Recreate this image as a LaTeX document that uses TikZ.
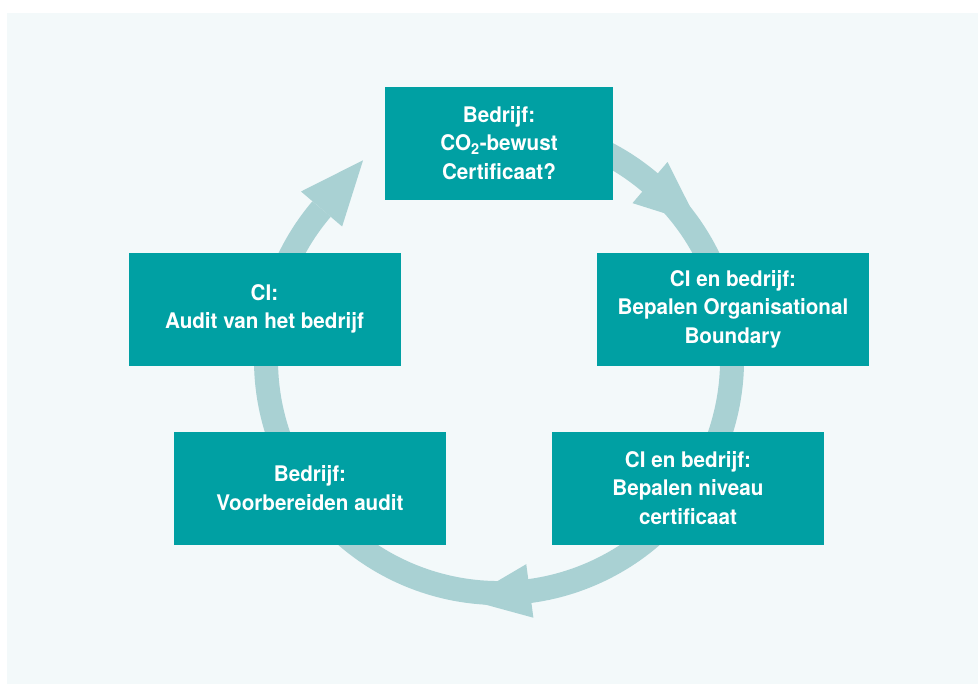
\documentclass[tikz,border=0pt]{standalone}
\usepackage{fontspec}
\setmainfont{TeX Gyre Heros}[FakeStretch=0.96]
\usetikzlibrary{calc}
\definecolor{boxc}{HTML}{00A0A3}
\definecolor{ringc}{HTML}{A9D1D3}
\definecolor{panelc}{HTML}{F3F9FA}
\begin{document}
\begin{tikzpicture}[x=1pt,y=1pt,
  stepbox/.style={fill=boxc, text=white, font=\fontsize{21.5}{28.5}\selectfont\bfseries,
    align=center, inner sep=0pt, minimum height=113pt, minimum width=272pt},
  ring/.style={draw=ringc, line width=24pt}]
\useasboundingbox (0,0) rectangle (978,-686);
\fill[white] (0,0) rectangle (978,-686);
\fill[panelc] (7,-13) rectangle (978,-684);
\coordinate (C) at (499,-360);
\draw[ring] ($(C)+(115:233)$) arc[start angle=115, end angle=-220.4, radius=233pt];
\foreach \a in {49.6,-82.4,139.6}
  \fill[ringc] ($(C)+(\a:206)$) -- ($(C)+(\a:260)$) -- ($(C)+(\a:233)+(\a-90:64)$) -- cycle;
\node[stepbox, minimum width=228pt] (b1) at (499,-143) {Bedrijf:\\CO\textsubscript{2}-bewust\\Certificaat?};
\node[stepbox] (b2) at (733,-309) {CI en bedrijf:\\Bepalen Organisational\\Boundary};
\node[stepbox] (b3) at (264.5,-309) {CI:\\Audit van het bedrijf};
\node[stepbox] (b4) at (688,-488) {CI en bedrijf:\\Bepalen niveau\\certificaat};
\node[stepbox] (b5) at (310,-488) {Bedrijf:\\Voorbereiden audit};
\end{tikzpicture}
\end{document}
